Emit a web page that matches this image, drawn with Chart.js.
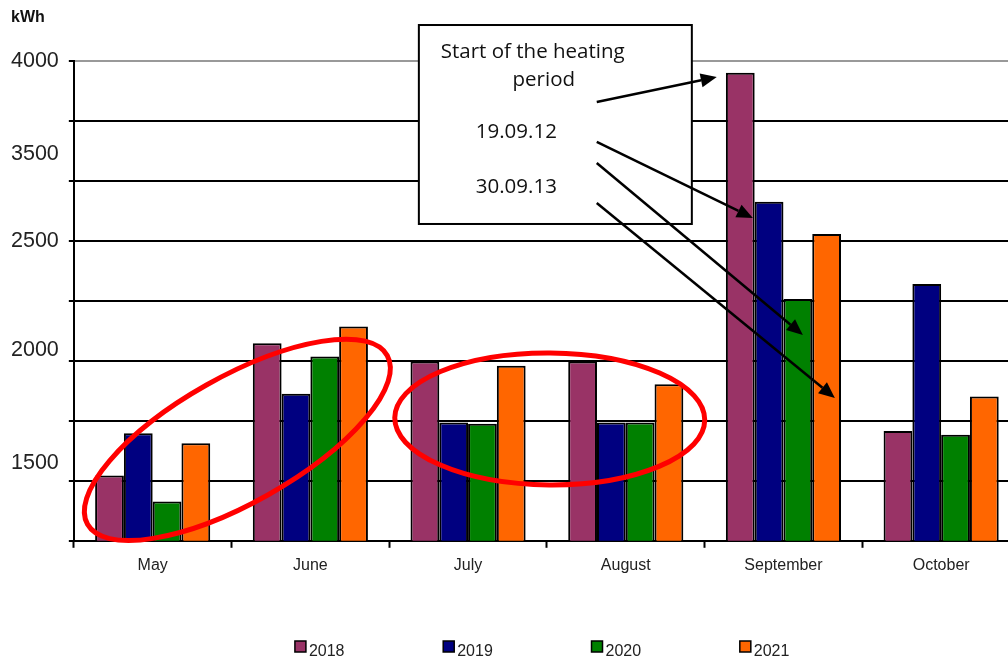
<!DOCTYPE html>
<html>
<head>
<meta charset="utf-8">
<title>kWh per month</title>
<script src="https://cdn.jsdelivr.net/npm/chart.js@4/dist/chart.umd.min.js"></script>
<style>
  html, body { margin: 0; padding: 0; background: #fff; overflow: hidden; }
  #wrap { width: 1022px; height: 659px; position: relative; }
</style>
</head>
<body>
<div id="wrap"><canvas id="grafico"></canvas></div>
<script>
// Categorías y series (kWh)
const months = ['May', 'June', 'July', 'August', 'September', 'October'];
const years = ['2018', '2019', '2020', '2021'];
const kwh2018 = [1235, 2118, 1995, 1995, 3922, 1533];
const kwh2019 = [1518, 1780, 1589, 1589, 3062, 2513];
const kwh2020 = [1062, 2029, 1580, 1589, 2413, 1507];
const kwh2021 = [1451, 2229, 1967, 1844, 2847, 1762];

// Líneas de la grilla y etiquetas del eje Y (las etiquetas no coinciden con la grilla en el original)
const gridValues = [800, 1200, 1600, 2000, 2400, 2800, 3200, 3600, 4000];
const yLabelValues = [4000, 3380, 2800, 2073, 1320];
const yLabelTexts = ['4000', '3500', '2500', '2000', '1500'];

const colores = ['#993366', '#000080', '#008000', '#FF6600'];
const series = [kwh2018, kwh2019, kwh2020, kwh2021];

const AXIS_FONT = "'Liberation Sans', Arial, sans-serif";
const NOTE_FONT = "'Open Sans', Lato, sans-serif";

// Anotaciones en unidades de datos: [índice de categoría, kWh]
const notas = {
  caja: [[1.688, 4240], [3.419, 2913]],
  lineas: [
    { text: 'Start of the heating', at: [2.41, 4060], align: 'center' },
    { text: 'period', at: [2.48, 3873], align: 'center' },
    { text: '19.09.12', at: [2.049, 3527], align: 'left' },
    { text: '30.09.13', at: [2.049, 3160], align: 'left' }
  ],
  flechas: [
    [[2.816, 3727], [3.577, 3893]],
    [[2.816, 3460], [3.806, 2953]],
    [[2.816, 3320], [4.123, 2173]],
    [[2.816, 3053], [4.326, 1753]]
  ],
  elipses: [
    { at: [0.537, 1473], rx: 172, ry: 63, rot: -29.4 },
    { at: [2.518, 1613], rx: 155, ry: 66, rot: 0.4 }
  ]
};

function flecha(ctx, x1, y1, x2, y2) {
  const ang = Math.atan2(y2 - y1, x2 - x1);
  const largo = 16, ancho = 7;
  const bx = x2 - largo * Math.cos(ang), by = y2 - largo * Math.sin(ang);
  ctx.beginPath();
  ctx.moveTo(x1, y1);
  ctx.lineTo(bx, by);
  ctx.stroke();
  ctx.beginPath();
  ctx.moveTo(x2, y2);
  ctx.lineTo(bx + ancho * Math.sin(ang), by - ancho * Math.cos(ang));
  ctx.lineTo(bx - ancho * Math.sin(ang), by + ancho * Math.cos(ang));
  ctx.closePath();
  ctx.fill();
}

// Plugin para dibujar la caja de texto, flechas, elipses rojas, leyenda y unidad
const anotaciones = {
  id: 'anotaciones',
  afterDatasetsDraw(chart) {
    const ctx = chart.ctx;
    const xs = chart.scales.x, ys = chart.scales.y;
    const px = p => [xs.getPixelForValue(p[0]), ys.getPixelForValue(p[1])];
    ctx.save();

    // elipses
    ctx.strokeStyle = '#ff0000';
    ctx.lineWidth = 5;
    notas.elipses.forEach(e => {
      const [cx, cy] = px(e.at);
      ctx.beginPath();
      ctx.ellipse(cx, cy, e.rx, e.ry, e.rot * Math.PI / 180, 0, Math.PI * 2);
      ctx.stroke();
    });

    // caja
    const [bx1, by1] = px(notas.caja[0]);
    const [bx2, by2] = px(notas.caja[1]);
    ctx.fillStyle = '#fff';
    ctx.fillRect(bx1, by1, bx2 - bx1, by2 - by1);
    ctx.strokeStyle = '#000';
    ctx.lineWidth = 2;
    ctx.strokeRect(bx1, by1, bx2 - bx1, by2 - by1);

    ctx.fillStyle = '#111';
    ctx.font = '20.5px ' + NOTE_FONT;
    ctx.textBaseline = 'middle';
    notas.lineas.forEach(l => {
      const [x, y] = px(l.at);
      ctx.textAlign = l.align;
      ctx.fillText(l.text, x, y);
    });

    // flechas
    ctx.strokeStyle = '#000';
    ctx.fillStyle = '#000';
    ctx.lineWidth = 2.5;
    notas.flechas.forEach(f => {
      const [x1, y1] = px(f[0]);
      const [x2, y2] = px(f[1]);
      flecha(ctx, x1, y1, x2, y2);
    });

    // unidad
    ctx.fillStyle = '#111';
    ctx.font = 'bold 16px ' + AXIS_FONT;
    ctx.textAlign = 'left';
    ctx.fillText('kWh', 11, 18);

    // leyenda
    const area = chart.chartArea;
    const centro = (area.left + area.right) / 2;
    ctx.font = '16px ' + AXIS_FONT;
    chart.data.datasets.forEach((ds, i) => {
      const x = centro - 252 + i * 148.3;
      ctx.fillStyle = ds.backgroundColor;
      ctx.fillRect(x, 641, 11, 11);
      ctx.strokeStyle = '#000';
      ctx.lineWidth = 1.5;
      ctx.strokeRect(x, 641, 11, 11);
      ctx.fillStyle = '#222';
      ctx.fillText(ds.label, x + 14, 652);
    });
    ctx.restore();
  }
};

const tickValues = Array.from(new Set(gridValues.concat(yLabelValues))).sort((a, b) => a - b);
const esGrilla = v => gridValues.includes(v);

const ctx = document.getElementById('grafico').getContext('2d');
window.chart = new Chart(ctx, {
  type: 'bar',
  data: {
    labels: months,
    datasets: years.map((y, i) => ({
      label: y,
      data: series[i],
      backgroundColor: colores[i],
      borderColor: '#000',
      borderWidth: 2,
      barPercentage: 1,
      categoryPercentage: 0.73
    }))
  },
  options: {
    responsive: true,
    maintainAspectRatio: false,
    animation: false,
    layout: { padding: { left: 1, right: 2, top: 61, bottom: 76 } },
    plugins: { legend: { display: false }, tooltip: { enabled: false } },
    scales: {
      x: {
        grid: { drawOnChartArea: false, drawTicks: true, tickLength: 7, tickColor: '#000', tickWidth: 2 },
        border: { color: '#000', width: 2 },
        ticks: { font: { family: AXIS_FONT, size: 16 }, color: '#222', padding: 8 }
      },
      y: {
        min: 800,
        max: 4000,
        afterBuildTicks: axis => { axis.ticks = tickValues.map(v => ({ value: v })); },
        grid: {
          color: c => !esGrilla(c.tick.value) ? 'rgba(0,0,0,0)' : (c.tick.value === 4000 ? '#999' : '#000'),
          tickColor: c => esGrilla(c.tick.value) ? '#000' : 'rgba(0,0,0,0)',
          lineWidth: 2,
          tickLength: 5
        },
        border: { color: '#000', width: 2 },
        ticks: {
          autoSkip: false,
          padding: 10,
          color: '#222',
          font: { family: AXIS_FONT, size: 21.5 },
          callback: v => {
            const i = yLabelValues.indexOf(v);
            return i >= 0 ? yLabelTexts[i] : '';
          }
        }
      }
    }
  },
  plugins: [anotaciones]
});
</script>
</body>
</html>
